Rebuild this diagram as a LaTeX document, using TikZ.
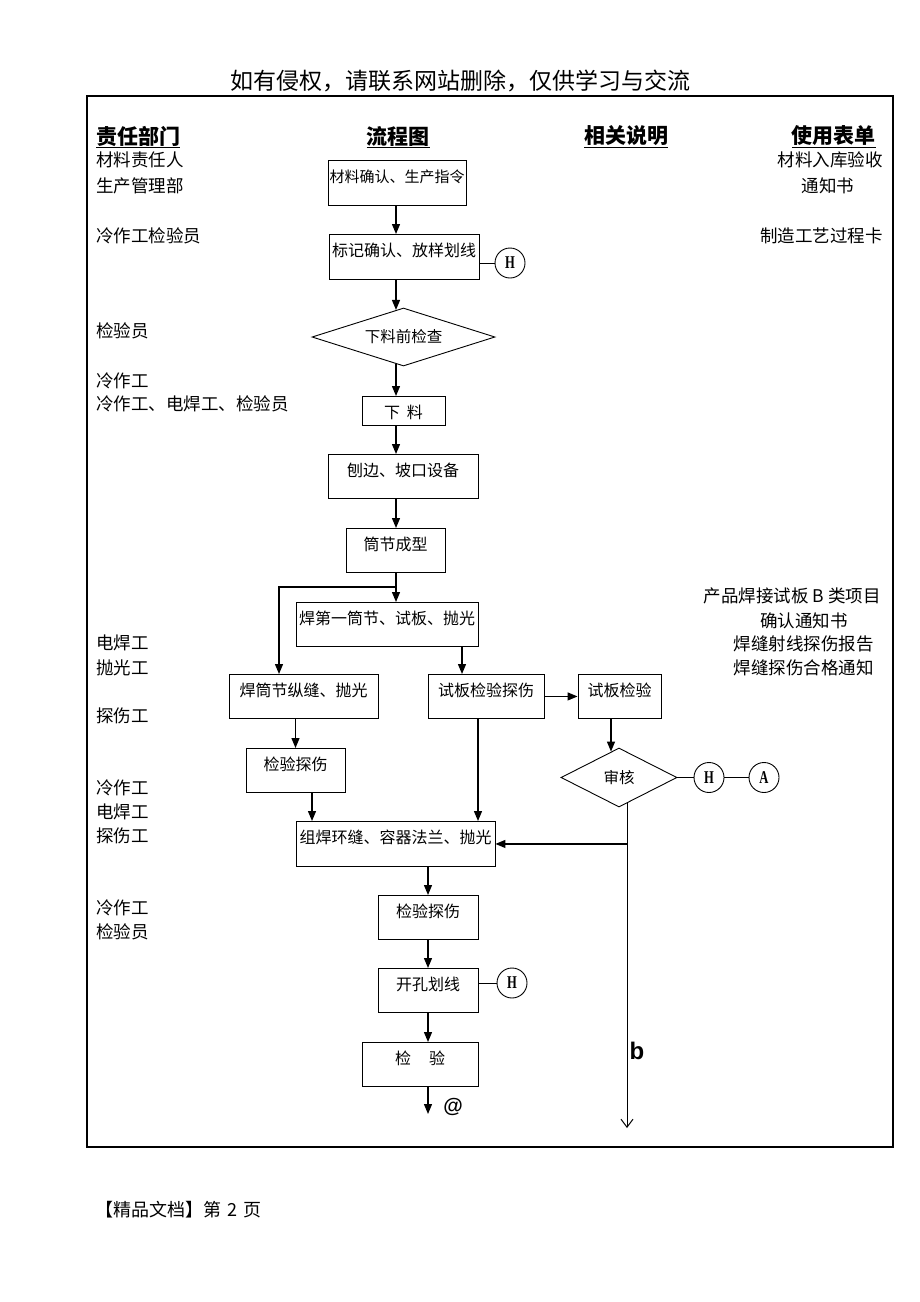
\documentclass[tikz,border=0pt]{standalone}
\usepackage{fontspec}
\usepackage{graphicx}
\setmainfont{Noto Sans CJK SC}
\newfontfamily\latinb{Liberation Sans}
\newfontfamily\serifl{Liberation Serif}
\usetikzlibrary{arrows.meta,shapes.geometric,calc}
\begin{document}
\begin{tikzpicture}[x=1pt,y=-1pt,
  box/.style={draw,line width=0.9pt,inner xsep=0pt,inner ysep=0pt,anchor=north,text height=22pt,font=\fontsize{16}{16}\selectfont},
  dia/.style={draw,diamond,line width=0.9pt,inner sep=0pt,font=\fontsize{15.5}{15.5}\selectfont},
  circ/.style={draw,circle,line width=0.9pt,inner sep=0pt,minimum size=30pt,font=\fontsize{18}{18}\selectfont\serifl\bfseries},
  lab/.style={anchor=west,inner sep=0pt,font=\fontsize{17.5}{17.5}\selectfont},
  rlab/.style={anchor=east,inner sep=0pt,font=\fontsize{17.5}{17.5}\selectfont},
  clab/.style={inner sep=0pt,font=\fontsize{17.5}{17.5}\selectfont},
  head/.style={inner sep=0pt,font=\fontsize{21}{21}\selectfont\bfseries},
  arr/.style={line width=1.3pt,-{Triangle[length=10pt,width=8pt]}},
  conn/.style={line width=1pt},
  openarr/.style={line width=1pt,-{Straight Barb[length=8pt,width=12pt]}}]
\useasboundingbox (0,0) rectangle (920,1302);
% watermark / footer
\node[inner sep=0pt,font=\fontsize{23}{23}\selectfont] (wm) at (460,81) {如有侵权，请联系网站删除，仅供学习与交流};
\node[anchor=west,inner sep=0pt,font=\fontsize{18}{18}\selectfont] (ft) at (95,1210) {【精品文档】第\hspace{6pt}2\hspace{6pt}页};
% frame
\draw[line width=2.5pt] (87,96) rectangle (893,1147);
% headers
\node[head,anchor=west] (h1t) at (96,137) {\underline{责任部门}};
\node[head] (h2t) at (398,137) {\underline{流程图}};
\node[head] (h3t) at (626,137) {\underline{相关说明}};
\node[head,anchor=east] (h4t) at (876,137) {\underline{使用表单}};
% left labels
\node[lab] (l1) at (96,160) {材料责任人};
\node[lab] (l2) at (96,186) {生产管理部};
\node[lab] (l3) at (96,236) {冷作工检验员};
\node[lab] (l4) at (96,331) {检验员};
\node[lab] (l5) at (96,381) {冷作工};
\node[lab] (l6) at (96,404) {冷作工、电焊工、检验员};
\node[lab] (l7) at (96,643) {电焊工};
\node[lab] (l8) at (96,668) {抛光工};
\node[lab] (l9) at (96,716) {探伤工};
\node[lab] (l10) at (96,788) {冷作工};
\node[lab] (l11) at (96,812) {电焊工};
\node[lab] (l12) at (96,836) {探伤工};
\node[lab] (l13) at (96,908) {冷作工};
\node[lab] (l14) at (96,932) {检验员};
% right labels
\node[rlab] (r1) at (883,160) {材料入库验收};
\node[clab] (r2) at (828,186) {通知书};
\node[rlab] (r3) at (883,236) {制造工艺过程卡};
\node[rlab] (r4) at (881,596) {产品焊接试板 B 类项目};
\node[clab] (r5) at (804,621) {确认通知书};
\node[rlab] (r6) at (874,644) {焊缝射线探伤报告};
\node[rlab] (r7) at (874,668) {焊缝探伤合格通知};
% boxes
\node[box,minimum width=138pt,text depth=23pt,font=\fontsize{15}{15}\selectfont] (b1) at (397,160) {材料确认、生产指令};
\node[box,minimum width=150pt,text depth=23pt] (b2) at (404,234) {标记确认、放样划线};
\node[dia,aspect=3.15,minimum width=183pt,minimum height=58pt] (d1) at (403.5,337) {下料前检查};
\node[box,minimum width=83pt,text depth=7pt] (b3) at (403.5,396) {下\hspace{7pt}料};
\node[box,minimum width=150pt,text depth=22pt] (b4) at (403,454) {刨边、坡口设备};
\node[box,minimum width=99pt,text depth=22pt] (b5) at (395.5,528) {筒节成型};
\node[box,minimum width=182pt,text depth=22pt] (b6) at (387,602) {焊第一筒节、试板、抛光};
\node[box,minimum width=149pt,text depth=22pt] (b7) at (303.5,674) {焊筒节纵缝、抛光};
\node[box,minimum width=116pt,text depth=22pt] (b8) at (486,674) {试板检验探伤};
\node[box,minimum width=83pt,text depth=22pt] (b9) at (619.5,674) {试板检验};
\node[box,minimum width=99pt,text depth=22pt] (b10) at (295.5,748) {检验探伤};
\node[dia,aspect=2,minimum width=116pt,minimum height=59pt] (d2) at (619,777.5) {审核};
\node[box,minimum width=199pt,text depth=23pt] (b11) at (395.5,821) {组焊环缝、容器法兰、抛光};
\node[box,minimum width=100pt,text depth=22pt] (b12) at (428,895) {检验探伤};
\node[box,minimum width=100pt,text depth=22pt] (b13) at (428,968) {开孔划线};
\node[box,minimum width=116pt,text depth=22pt] (b14) at (420,1042) {检\hspace{18pt}验};
% circles
\node[circ] (hc1) at (510,263) {\scalebox{0.7}[1]{H}};
\node[circ] (hc2) at (709,777.5) {\scalebox{0.7}[1]{H}};
\node[circ] (ac) at (764,777.5) {\scalebox{0.7}[1]{A}};
\node[circ] (hc3) at (512,983) {\scalebox{0.7}[1]{H}};
% column coordinates
\coordinate (c0) at (396,0);
\coordinate (c279) at (279,0);
\coordinate (c312) at (312,0);
\coordinate (c462) at (462,0);
\coordinate (c478) at (478,0);
\coordinate (c611) at (611,0);
\coordinate (c627) at (627,0);
\coordinate (j1) at (396,587);
\coordinate (jl) at (279,587);
\coordinate (endb) at (627,1128);
\coordinate (oend) at (428,1114);
% connectors
\draw[arr] (b1.south -| c0) -- (b2.north -| c0);
\draw[arr] (b2.south -| c0) -- ($(d1.north -| c0)+(0,2.4)$);
\draw[arr] ($(d1.south -| c0)+(0,-2.4)$) -- (b3.north -| c0);
\draw[arr] (b3.south -| c0) -- (b4.north -| c0);
\draw[arr] (b4.south -| c0) -- (b5.north -| c0);
\draw[line width=1.3pt] (b5.south -| c0) -- (j1);
\draw[arr] (j1) -- (b6.north -| c0);
\draw[arr] (j1) -- (jl) -- (b7.north -| c279);
\draw[arr] (b6.south -| c462) -- (b8.north -| c462);
\draw[arr] (b8.east) -- (b9.west);
\draw[arr] (b9.south -| c611) -- ($(d2.north -| c611)+(0,4)$);
\draw[conn] (d2.east) -- (hc2.west);
\draw[conn] (hc2.east) -- (ac.west);
\draw[arr] (b7.south -| b10.north) -- (b10.north);
\draw[arr] (b10.south -| c312) -- (b11.north -| c312);
\draw[arr] (b8.south -| c478) -- (b11.north -| c478);
\draw[openarr] ($(d2.south -| c627)+(0,-4)$) -- (endb);
\draw[arr] (b11.east -| c627) -- (b11.east);
\draw[arr] (b11.south -| b12.north) -- (b12.north);
\draw[arr] (b12.south) -- (b13.north);
\draw[arr] (b13.south) -- (b14.north -| b13.south);
\draw[arr] (b14.south -| oend) -- (oend);
\draw[conn] (b2.east |- hc1) -- (hc1.west);
\draw[conn] (b13.east |- hc3) -- (hc3.west);
% marks
\node[inner sep=0pt,font=\fontsize{20}{20}\selectfont\latinb\bfseries] (at) at (453,1107) {@};
\node[inner sep=0pt,font=\fontsize{24}{24}\selectfont\latinb\bfseries] (bm) at (637,1051) {b};
\end{tikzpicture}
\end{document}
